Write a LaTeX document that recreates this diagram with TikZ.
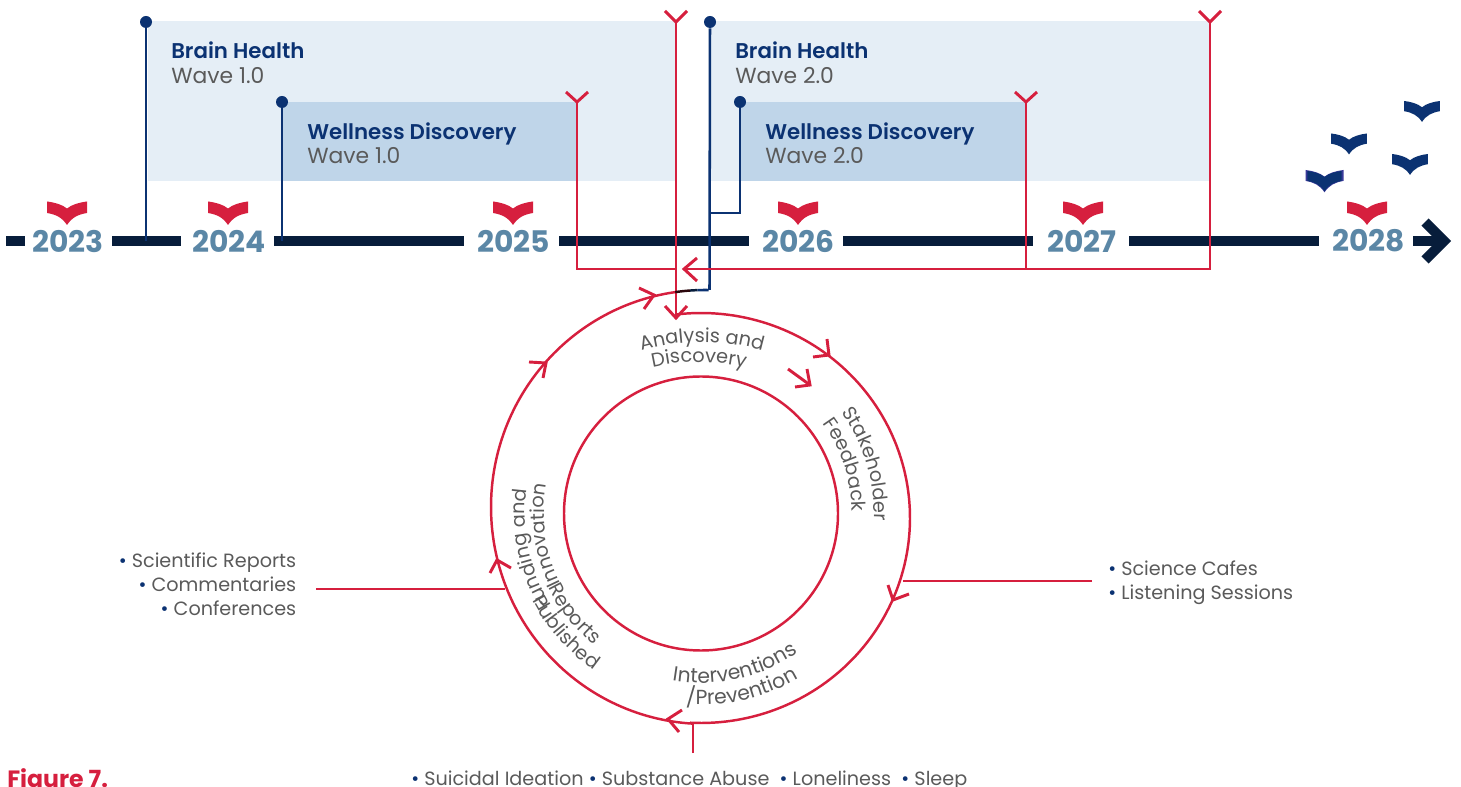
\documentclass[tikz,border=0pt]{standalone}
\usepackage{fontspec}
\setmainfont{Poppins}[BoldFont={* SemiBold}]
\newfontfamily\popbold{Poppins}[UprightFont={* Bold}]
\usetikzlibrary{decorations.text}
\definecolor{navy}{HTML}{071D3B}
\definecolor{blueline}{HTML}{0B3272}
\definecolor{crim}{HTML}{D61F3E}
\definecolor{yearblue}{HTML}{5B87A6}
\definecolor{txt}{HTML}{5A5A5A}
\definecolor{bandlight}{HTML}{E5EEF6}
\definecolor{banddark}{HTML}{BFD5E9}
\definecolor{bookedge}{HTML}{3A3A9A}
\newcommand{\arcfont}{\fontsize{14.5pt}{16pt}\selectfont}
\newcommand{\arcfontb}{\fontsize{15.3pt}{17pt}\selectfont}
\newcommand{\bul}{{\color{blueline}•}}
\newcommand{\arctext}[6]{\path[decorate,decoration={text along path,text align=center,text={|\arcfont\color{txt}|#6}}]
  plot[domain=#4:#5,samples=60] ({#1+#3*cos(\x)},{#2+#3*sin(\x)});}
\newcommand{\arctextb}[6]{\path[decorate,decoration={text along path,text align=center,text={|\arcfontb\color{txt}|#6}}]
  plot[domain=#4:#5,samples=60] ({#1+#3*cos(\x)},{#2+#3*sin(\x)});}
\newcommand{\chev}[3]{\draw[redline,line width=2.2pt,line join=miter] (#2) -- (#1) -- (#3);}
\newcommand{\bookshape}[4]{\fill[#4,scale around={#3:(#1,#2)}] (#1-20,#2) .. controls (#1-12,#2+1) and (#1-5,#2+3) .. (#1,#2+7) .. controls (#1+5,#2+3) and (#1+12,#2+1) .. (#1+20,#2) -- (#1+20,#2+11.5) .. controls (#1+11,#2+13) and (#1+5,#2+16) .. (#1,#2+23.5) .. controls (#1-5,#2+16) and (#1-11,#2+13) .. (#1-20,#2+11.5) -- cycle;}
\tikzset{
  x=0.75pt,y=-0.75pt,
  redline/.style={draw=crim,line width=1.85pt},
  blue line/.style={draw=blueline,line width=1.9pt},
  axis/.style={draw=navy,line width=7.6pt},
  year/.style={font=\popbold\fontsize{22.3pt}{25pt}\selectfont,text=yearblue,anchor=center,inner sep=0pt},
  head/.style={font=\bfseries\fontsize{16pt}{18pt}\selectfont,text=blueline,anchor=base west,inner sep=0pt},
  wave/.style={font=\fontsize{16.4pt}{18pt}\selectfont,text=txt,anchor=base west,inner sep=0pt},
  bullets/.style={font=\fontsize{14.4pt}{16pt}\selectfont,text=txt,inner sep=0pt},
  dot/.style={circle,fill=blueline,minimum size=9pt,inner sep=0pt},
}
\begin{document}
\begin{tikzpicture}
\clip (0,0) rectangle (1461,787);
\useasboundingbox (0,0) rectangle (1461,787);
% bands
\fill[bandlight] (148,21) rectangle (676,181);
\fill[banddark] (282,102) rectangle (577,181);
\fill[bandlight] (710,21) rectangle (1210,181);
\fill[banddark] (740,102) rectangle (1026,181);
% axis
\foreach \a/\b in {6/25,112/181,274/464,559/749,843/1033,1129/1319,1413/1442}
  \draw[axis] (\a,241) -- (\b,241);
\coordinate (tipT) at (1444,241);
\coordinate (tipA) at (1425,222);
\coordinate (tipB) at (1425,260);
\draw[navy,line width=7.6pt,line join=miter] (tipA) -- (tipT) -- (tipB);
% years
\node[year] (y23) at (68,241) {2023};
\node[year] (y24) at (229,241) {2024};
\node[year] (y25) at (513.5,241) {2025};
\node[year] (y26) at (798.5,241) {2026};
\node[year] (y27) at (1082,241) {2027};
\node[year] (y28) at (1368.5,241) {2028};
% books
\bookshape{67}{201.5}{1}{crim}
\bookshape{228}{201.5}{1}{crim}
\bookshape{513}{201.5}{1}{crim}
\bookshape{798}{201.5}{1}{crim}
\bookshape{1083}{201.5}{1}{crim}
\bookshape{1367}{201.5}{1}{crim}
\bookshape{1422}{101}{0.89}{blueline}
\bookshape{1349}{133.5}{0.89}{blueline}
\bookshape{1410}{154}{0.89}{blueline}
\bookshape{1324.5}{170}{0.95}{bookedge}
\bookshape{1324.5}{171}{0.86}{blueline}
% blue starts
\coordinate (axA) at (146,241);
\coordinate (axB) at (282,241);
\coordinate (jn) at (710,213);
\coordinate (arcEnd) at (709.5,290);
\node[dot] (b1) at (146,22) {};
\node[dot] (b2) at (282,102) {};
\node[dot] (b3) at (710,22) {};
\node[dot] (b4) at (740,102) {};
\draw[blue line] (b1) -- (axA);
\draw[blue line] (b2) -- (axB);
\draw[blue line] (b3) -- (arcEnd);
\draw[blue line] (b4) |- (jn);
% red ends
\coordinate (e1) at (676,22);
\coordinate (e2) at (577,102);
\coordinate (e3) at (1026,102);
\coordinate (e4) at (1210,22);
\coordinate (circIn) at (676,318);
\coordinate (busTip) at (684,269);
\draw[redline] (e1) -- (circIn);
\draw[redline] (e2) |- (676,269);
\draw[redline] (e3) -- (1026,269);
\draw[redline] (e4) |- (busTip);
\chev{e1}{665,11}{687,11}
\chev{e2}{566,92}{588,92}
\chev{e3}{1015,92}{1037,92}
\chev{e4}{1199,11}{1221,11}
\chev{circIn}{665,306}{687,306}
\chev{busTip}{697,258}{697,281}
% circles
\draw[redline] (701,513.5) circle[radius=137*0.75pt];
\draw[redline] plot[domain=-97:93,samples=120] ({701+209*cos(\x)},{518+205*sin(\x)});
\draw[redline] plot[domain=93:262,samples=120] ({705+214*cos(\x)},{507+217*sin(\x)});
\draw[black!80!crim,line width=1.85pt] plot[domain=262:266,samples=10] ({705+214*cos(\x)},{507+217*sin(\x)});
\draw[navy,line width=1.85pt] plot[domain=266:268,samples=6] ({705+214*cos(\x)},{507+217*sin(\x)});
\draw[blue line] plot[domain=268:271,samples=6] ({705+214*cos(\x)},{507+217*sin(\x)});
\chev{654,295}{639,288}{644,309}
\chev{546,363}{529,362}{543,378}
\chev{829,355}{813,357}{827,339}
\chev{893,600}{888,585}{909,594}
\chev{668,719}{682,710}{679,732}
\chev{497,560}{490,573}{511,568}
\chev{810,385}{807,369}{795,387}
\draw[redline,line width=2.2pt] (788,369) -- (810,385);
% leaders
\coordinate (lL) at (316,589);
\coordinate (lLe) at (505,589);
\coordinate (lR) at (1092,581);
\coordinate (lRe) at (903,581);
\coordinate (lB) at (693,753);
\coordinate (lBe) at (693,723);
\draw[redline] (lL) -- (lLe);
\draw[redline] (lR) -- (lRe);
\draw[redline] (lB) -- (lBe);
% wave labels
\node[head] (h1) at (171,59) {Brain Health};
\node[wave] (w1) at (171,84) {Wave 1.0};
\node[head] (h2) at (307,139.5) {Wellness Discovery};
\node[wave] (w2) at (307,164) {Wave 1.0};
\node[head] (h3) at (735,59) {Brain Health};
\node[wave] (w3) at (735,84) {Wave 2.0};
\node[head] (h4) at (765,139.5) {Wellness Discovery};
\node[wave] (w4) at (765,164) {Wave 2.0};
% circle labels
\arctext{702}{562}{220}{240}{300}{Analysis and}
\arctext{699}{562}{200}{240}{300}{Discovery}
\arctext{702}{513}{172}{-46.6}{13.4}{Stakeholder}
\arctext{702}{513}{150}{-48}{11}{Feedback}
\arctextb{701}{513}{170}{110}{45}{Interventions}
\arctextb{701}{513}{192}{110}{44}{/Prevention}
\arctext{701}{513}{170}{170}{113}{Reports}
\arctext{701}{513}{190}{168}{109}{Published}
\arctext{701}{513}{176}{133}{203}{Funding and}
\arctext{701}{513}{157}{140}{204}{Innovation}
% bullets
\node[bullets,anchor=base east] (s1) at (296.5,568) {\bul{} Scientific Reports};
\node[bullets,anchor=base east] (s2) at (296.5,592) {\bul{} Commentaries};
\node[bullets,anchor=base east] (s3) at (296.5,616) {\bul{} Conferences};
\node[bullets,anchor=base west] (c1) at (1108,575.5) {\bul{} Science Cafes};
\node[bullets,anchor=base west] (c2) at (1108,599.5) {\bul{} Listening Sessions};
\node[bullets,anchor=base west] (t1) at (411,785) {\bul{} Suicidal Ideation \bul{} Substance Abuse\ \ \bul{} Loneliness\ \ \bul{} Sleep};
\node[font=\popbold\fontsize{17.7pt}{19pt}\selectfont,text=crim,anchor=base west,inner sep=0pt] (fig) at (7,787) {Figure 7.};
\end{tikzpicture}
\end{document}
